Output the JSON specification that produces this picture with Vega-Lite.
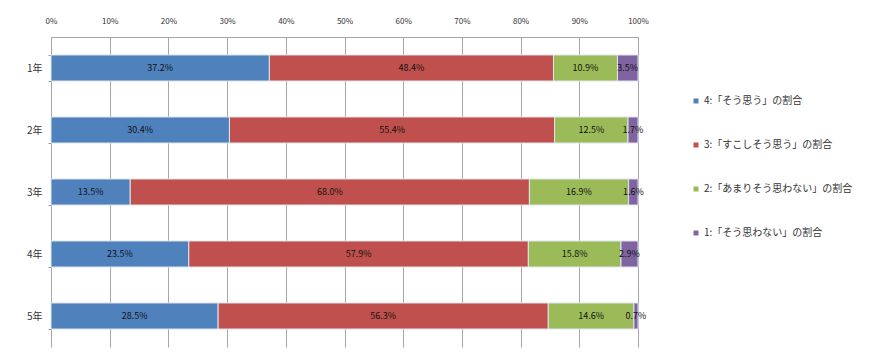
{
  "$schema": "https://vega.github.io/schema/vega-lite/v6.json",
  "autosize": "none",
  "width": 587,
  "height": 310,
  "padding": {"left": 51, "top": 37, "right": 231, "bottom": 12},
  "background": "white",
  "config": {
    "font": "Noto Sans CJK JP",
    "view": {"stroke": null}
  },
  "data": {
    "values": [
      {"grade": "1年", "cat": "4:「そう思う」の割合", "ord": 1, "v": 0.372},
      {"grade": "1年", "cat": "3:「すこしそう思う」の割合", "ord": 2, "v": 0.484},
      {"grade": "1年", "cat": "2:「あまりそう思わない」の割合", "ord": 3, "v": 0.109},
      {"grade": "1年", "cat": "1:「そう思わない」の割合", "ord": 4, "v": 0.035},
      {"grade": "2年", "cat": "4:「そう思う」の割合", "ord": 1, "v": 0.304},
      {"grade": "2年", "cat": "3:「すこしそう思う」の割合", "ord": 2, "v": 0.554},
      {"grade": "2年", "cat": "2:「あまりそう思わない」の割合", "ord": 3, "v": 0.125},
      {"grade": "2年", "cat": "1:「そう思わない」の割合", "ord": 4, "v": 0.017},
      {"grade": "3年", "cat": "4:「そう思う」の割合", "ord": 1, "v": 0.135},
      {"grade": "3年", "cat": "3:「すこしそう思う」の割合", "ord": 2, "v": 0.680},
      {"grade": "3年", "cat": "2:「あまりそう思わない」の割合", "ord": 3, "v": 0.169},
      {"grade": "3年", "cat": "1:「そう思わない」の割合", "ord": 4, "v": 0.016},
      {"grade": "4年", "cat": "4:「そう思う」の割合", "ord": 1, "v": 0.235},
      {"grade": "4年", "cat": "3:「すこしそう思う」の割合", "ord": 2, "v": 0.579},
      {"grade": "4年", "cat": "2:「あまりそう思わない」の割合", "ord": 3, "v": 0.158},
      {"grade": "4年", "cat": "1:「そう思わない」の割合", "ord": 4, "v": 0.029},
      {"grade": "5年", "cat": "4:「そう思う」の割合", "ord": 1, "v": 0.285},
      {"grade": "5年", "cat": "3:「すこしそう思う」の割合", "ord": 2, "v": 0.563},
      {"grade": "5年", "cat": "2:「あまりそう思わない」の割合", "ord": 3, "v": 0.146},
      {"grade": "5年", "cat": "1:「そう思わない」の割合", "ord": 4, "v": 0.007}
    ]
  },
  "encoding": {
    "y": {
      "field": "grade", "type": "nominal", "title": null,
      "scale": {"paddingInner": 0.58, "paddingOuter": 0.29},
      "axis": {
        "domain": false, "tickBand": "extent", "ticks": true, "tickSize": 3,
        "tickColor": "#999999", "labelFontSize": 10, "labelColor": "#333333",
        "labelPadding": 6, "grid": false
      }
    },
    "order": {"field": "ord", "type": "quantitative"}
  },
  "layer": [
    {
      "mark": {"type": "bar", "stroke": "#dfe6ee", "strokeWidth": 1},
      "encoding": {
        "x": {
          "field": "v", "type": "quantitative", "stack": "normalize", "title": null,
          "scale": {"domain": [0, 1], "nice": false},
          "axis": {
            "orient": "top", "format": ".0%", "values": [0,0.1,0.2,0.3,0.4,0.5,0.6,0.7,0.8,0.9,1],
            "grid": true, "gridColor": "#a6a6a6", "domainColor": "#a6a6a6", "ticks": false,
            "labelOverlap": false, "labelBound": false,
            "labelFontSize": 8, "labelColor": "#333333", "labelPadding": 12, "labelFlush": false
          }
        },
        "color": {
          "field": "cat", "type": "nominal", "title": null,
          "sort": ["4:「そう思う」の割合", "3:「すこしそう思う」の割合", "2:「あまりそう思わない」の割合", "1:「そう思わない」の割合"],
          "scale": {"range": ["#4F81BD", "#C0504D", "#9BBB59", "#8064A2"]},
          "legend": {
            "orient": "none", "legendX": 640, "legendY": 59,
            "symbolType": "square", "symbolSize": 25, "symbolStrokeWidth": 0,
            "labelFontSize": 10, "labelColor": "#333333", "rowPadding": 34, "labelOffset": 3
          }
        }
      }
    },
    {
      "mark": {"type": "text", "fontSize": 9, "color": "#111111"},
      "encoding": {
        "x": {"field": "v", "type": "quantitative", "stack": "normalize", "bandPosition": 0.5},
        "text": {"field": "v", "type": "quantitative", "format": ".1%"}
      }
    }
  ]
}
